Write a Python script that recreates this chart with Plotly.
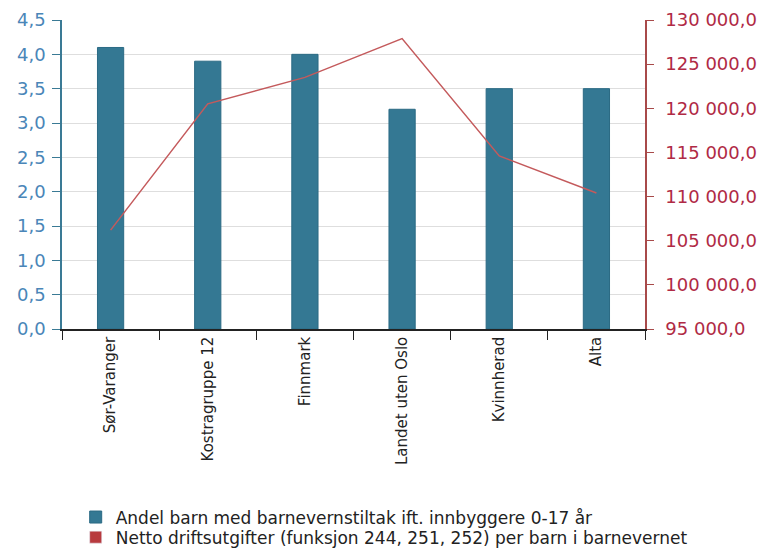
import plotly.graph_objects as go

categories = ["Sør-Varanger", "Kostragruppe 12", "Finnmark", "Landet uten Oslo", "Kvinnherad", "Alta"]
andel_barn = [4.1, 3.9, 4.0, 3.2, 3.5, 3.5]
netto_drift = [106200, 120500, 123500, 127900, 114600, 110400]

bar_name = "Andel barn med barnevernstiltak ift. innbyggere 0-17 år"
line_name = "Netto driftsutgifter (funksjon 244, 251, 252) per barn i barnevernet"

blue = "#347893"
red = "#b83a3e"

fig = go.Figure()

fig.add_trace(
    go.Bar(
        x=categories,
        y=andel_barn,
        name=bar_name,
        width=0.27,
        marker=dict(color=blue, line=dict(color="#2b6a84", width=1)),
        legend="legend",
    )
)

fig.add_trace(
    go.Scatter(
        x=categories,
        y=netto_drift,
        name=line_name,
        mode="lines",
        yaxis="y2",
        line=dict(color="#c45a5c", width=1.5),
        showlegend=False,
    )
)

# legend entry drawn as a square like the original
fig.add_trace(
    go.Bar(
        x=[None],
        y=[None],
        name=line_name,
        yaxis="y2",
        marker=dict(color=red),
        legend="legend2",
    )
)

legend_style = dict(
    x=0.0235,
    xanchor="left",
    yanchor="middle",
    font=dict(size=17, color="#222"),
    bgcolor="rgba(0,0,0,0)",
)

fig.update_layout(
    width=759,
    height=543,
    margin=dict(l=54, r=122, t=12, b=222, autoexpand=False),
    plot_bgcolor="white",
    paper_bgcolor="white",
    barmode="overlay",
    separators=", ",
    font=dict(family="DejaVu Sans", size=15, color="#222"),
    xaxis=dict(
        type="category",
        automargin=False,
        tickson="boundaries",
        ticks="outside",
        ticklen=9,
        tickcolor="#222",
        tickangle=-90,
        tickfont=dict(size=15, color="#222"),
        showline=True,
        linecolor="#222",
        linewidth=1.5,
        showgrid=False,
        range=[-0.5, 5.5],
    ),
    yaxis=dict(
        automargin=False,
        range=[0, 4.5],
        dtick=0.5,
        tickformat=".1f",
        ticks="outside",
        ticklen=8,
        tickcolor="#3a7a95",
        showline=True,
        linecolor="#3a7a95",
        linewidth=1.5,
        gridcolor="#dedede",
        tickfont=dict(size=18, color="#4a86b8"),
        ticklabelstandoff=3,
        zeroline=False,
    ),
    yaxis2=dict(
        automargin=False,
        overlaying="y",
        side="right",
        range=[95000, 130000],
        dtick=5000,
        tickformat=",.1f",
        ticks="outside",
        ticklen=7,
        tickcolor="#a84a4a",
        showline=True,
        linecolor="#a84a4a",
        linewidth=1.5,
        showgrid=False,
        zeroline=False,
        tickfont=dict(size=18, color="#b02a45"),
        ticklabelstandoff=8,
    ),
    legend=dict(legend_style, y=-0.610),
    legend2=dict(legend_style, y=-0.675),
)

fig.write_html("out.html")
